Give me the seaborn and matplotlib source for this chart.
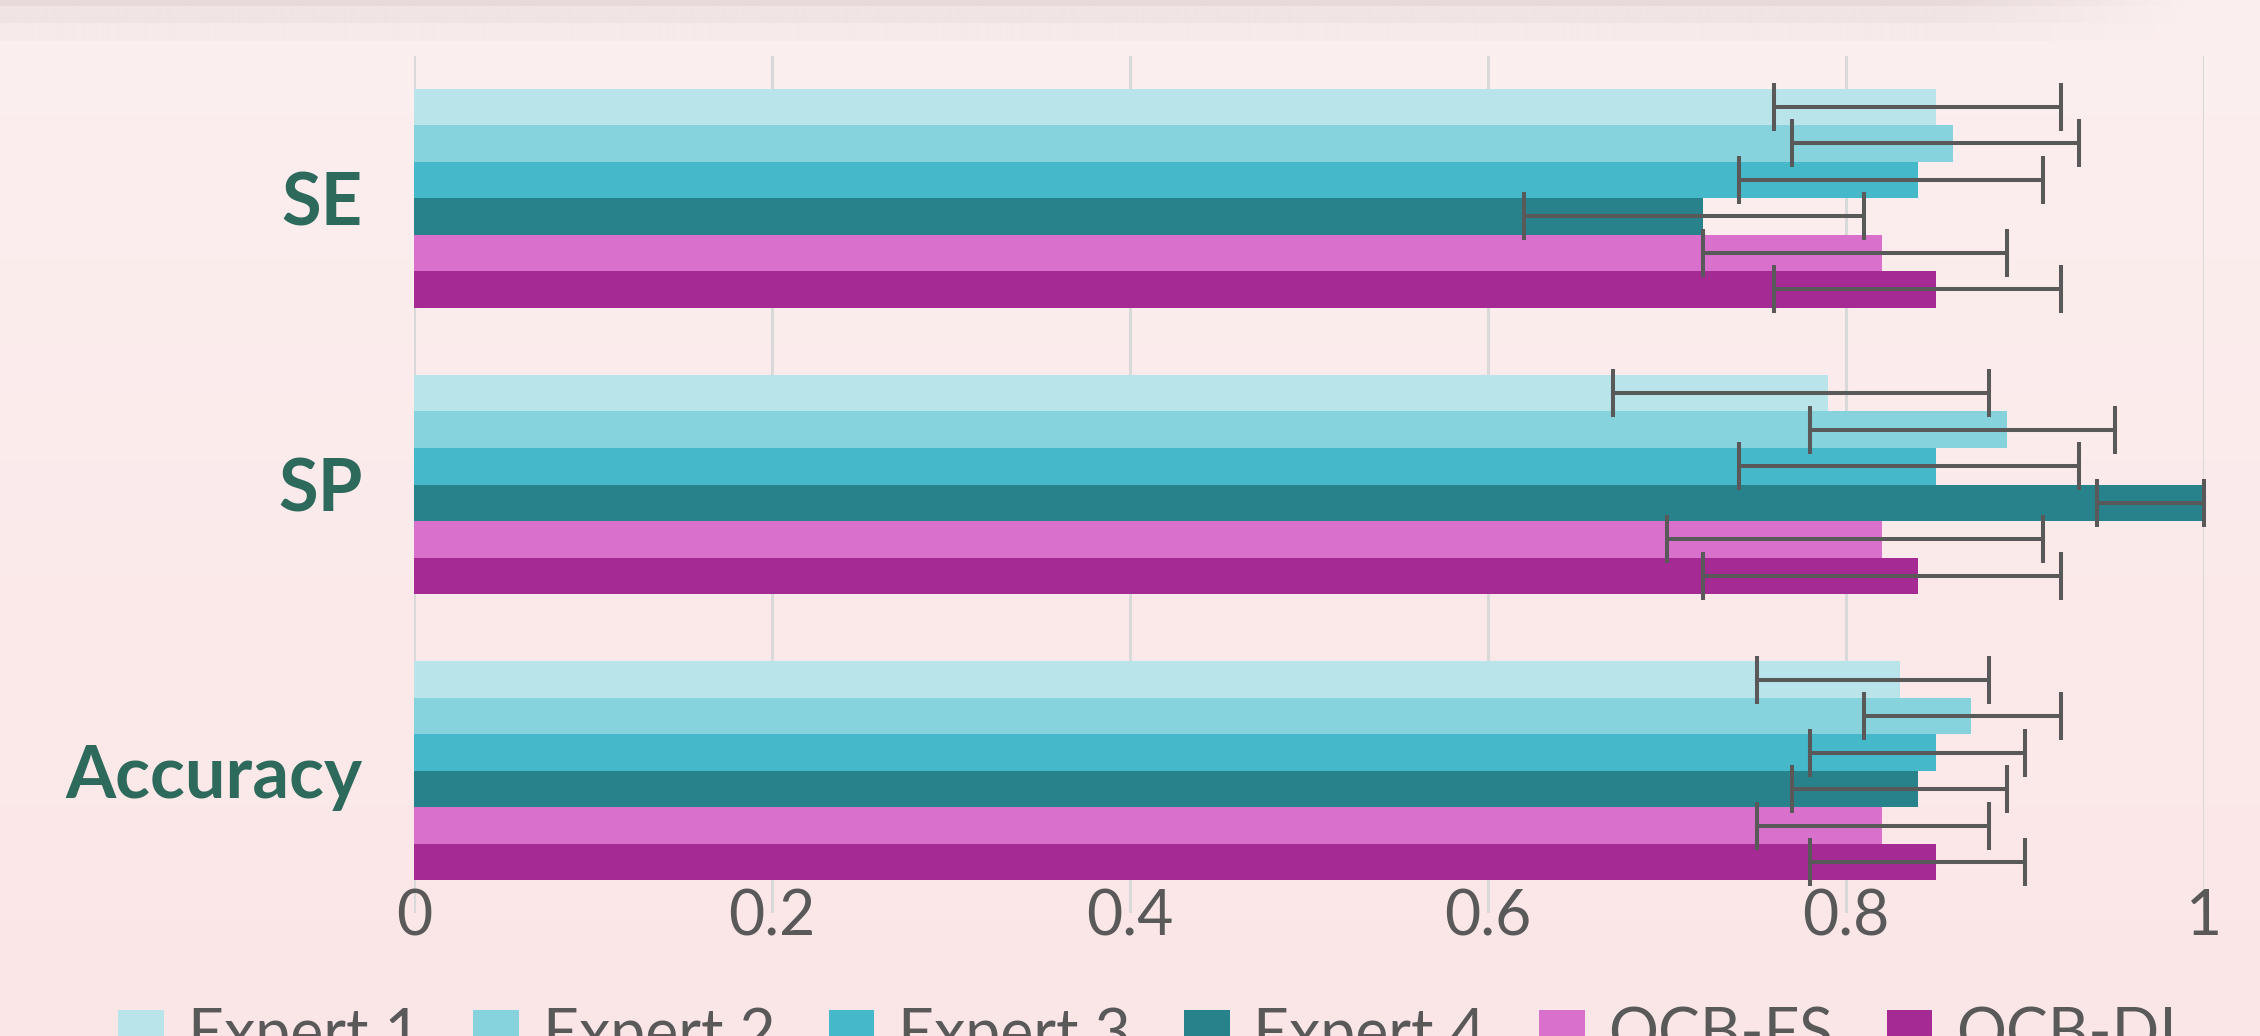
import numpy as np
import pandas as pd
import matplotlib
matplotlib.use("Agg")
import matplotlib.pyplot as plt
import seaborn as sns

# Data dibaca dari gambar referensi
metrics = ["SE", "SP", "Accuracy"]
methods = ["Expert 1", "Expert 2", "Expert 3", "Expert 4", "OCB-FS", "OCB-DL"]
colors = ["#B8E4EA", "#86D3DD", "#45B8C9", "#28828C", "#D970CB", "#A52A93"]

se_val = [0.85, 0.86, 0.84, 0.72, 0.82, 0.85]
se_low = [0.76, 0.77, 0.74, 0.62, 0.72, 0.76]
se_high = [0.92, 0.93, 0.91, 0.81, 0.89, 0.92]

sp_val = [0.79, 0.89, 0.85, 1.00, 0.82, 0.84]
sp_low = [0.67, 0.78, 0.74, 0.94, 0.70, 0.72]
sp_high = [0.88, 0.95, 0.93, 1.00, 0.91, 0.92]

acc_val = [0.83, 0.87, 0.85, 0.84, 0.82, 0.85]
acc_low = [0.75, 0.81, 0.78, 0.77, 0.75, 0.78]
acc_high = [0.88, 0.92, 0.90, 0.89, 0.88, 0.90]

xticks = [0, 0.2, 0.4, 0.6, 0.8, 1.0]
xticklabels = ["0", "0.2", "0.4", "0.6", "0.8", "1"]

values = {"SE": se_val, "SP": sp_val, "Accuracy": acc_val}
lows = {"SE": se_low, "SP": sp_low, "Accuracy": acc_low}
highs = {"SE": se_high, "SP": sp_high, "Accuracy": acc_high}

rows = []
for m in metrics:
    for i, meth in enumerate(methods):
        rows.append({"metric": m, "method": meth, "value": values[m][i],
                     "low": lows[m][i], "high": highs[m][i]})
df = pd.DataFrame(rows)

sns.set_style("white")
plt.rcParams["font.family"] = ["Lato", "DejaVu Sans"]

W, H = 2260, 1036
fig = plt.figure(figsize=(W / 100, H / 100), dpi=100)

# Latar belakang: gradien merah muda + pita bayangan di atas
bg = plt.axes([0, 0, 1, 1])
top_c = np.array([252, 239, 239]) / 255
bot_c = np.array([251, 230, 231]) / 255
t = np.linspace(0, 1, H)[:, None, None]
img = top_c * (1 - t) + bot_c * t
img = np.repeat(img, 200, axis=1)
xs = np.linspace(0, W, 200)
fade = np.clip((2200 - xs) / 250, 0, 1)[None, :, None]
band_rows = np.arange(H)
for y0, y1, col in [(23, 41, (246, 234, 234)), (6, 23, (241, 228, 228)), (0, 6, (232, 218, 219))]:
    sel = (band_rows >= y0) & (band_rows < y1)
    c = np.array(col) / 255
    img[sel] = img[sel] * (1 - fade[0]) + c * fade[0]
bg.imshow(img, aspect="auto", extent=[0, 1, 0, 1], interpolation="bilinear")
bg.set_axis_off()

ax = fig.add_axes([414 / W, 1 - 913 / H, 1790 / W, 857 / H])
ax.set_facecolor("none")

sns.barplot(data=df, y="metric", x="value", hue="method", orient="h",
            order=metrics, hue_order=methods, palette=colors, saturation=1,
            width=0.765, errorbar=None, linewidth=0, ax=ax)

# Error bar asimetris
bar_containers = list(ax.containers)
for i, cont in enumerate(bar_containers):
    meth = methods[i]
    sub = df[df["method"] == meth].set_index("metric").loc[metrics]
    yc = [b.get_y() + b.get_height() / 2 for b in cont]
    xv = sub["value"].values
    xerr = [xv - sub["low"].values, sub["high"].values - xv]
    ax.errorbar(xv, yc, xerr=xerr, fmt="none", ecolor="#595959",
                elinewidth=2.9, capsize=17, capthick=2.9, clip_on=False, zorder=5)

ax.set_xlim(0, 1)
ax.set_ylim(2.496, -0.496)
ax.set_xticks(xticks)
ax.set_xticklabels(xticklabels)
ax.xaxis.grid(True, color="#D9D9D9", linewidth=2.2)
ax.yaxis.grid(False)
ax.set_axisbelow(True)
sns.despine(ax=ax, left=True, bottom=True)
ax.tick_params(axis="x", length=0, pad=-18, labelsize=45, labelcolor="#595959")
ax.tick_params(axis="y", length=0, pad=37, labelsize=52, labelcolor="#2D6A5C")
for lab in ax.get_yticklabels():
    lab.set_fontweight("bold")
ax.set_xlabel("")
ax.set_ylabel("")

handles, labels = ax.get_legend_handles_labels()
if ax.legend_ is not None:
    ax.legend_.remove()
fig.legend(handles, labels, loc="upper center", bbox_to_anchor=(0.511, 1 - 1007 / H),
           ncol=6, frameon=False, fontsize=45, labelcolor="#595959",
           handlelength=0.73, handleheight=0.73, handletextpad=0.38,
           columnspacing=0.85, borderpad=0, borderaxespad=0)

fig.savefig("out.png", dpi=100)
